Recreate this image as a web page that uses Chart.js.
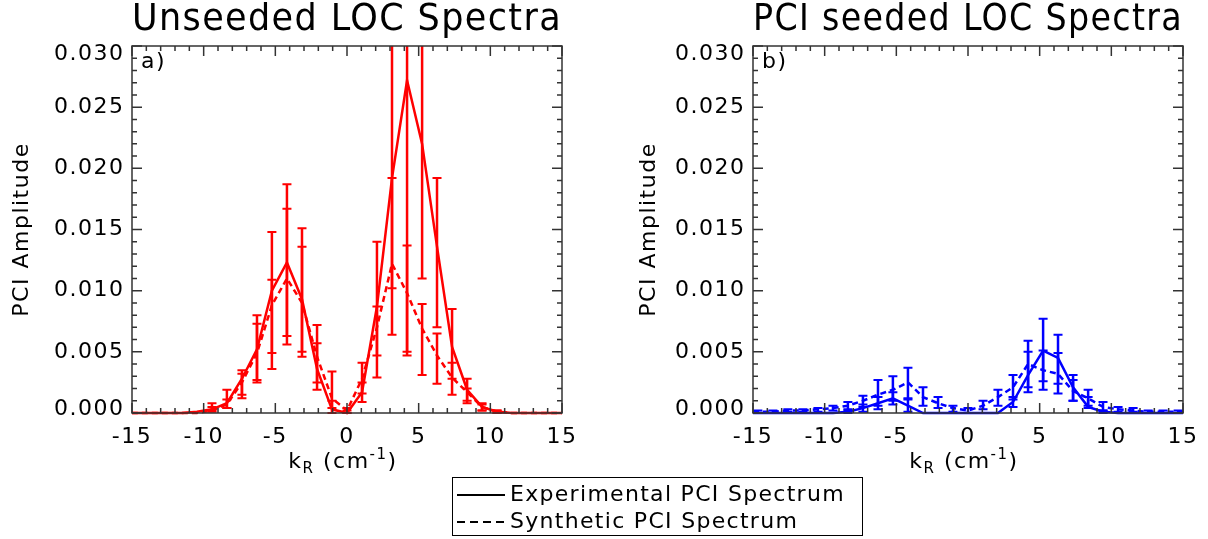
<!DOCTYPE html>
<html>
<head>
<meta charset="utf-8">
<script src="https://cdn.jsdelivr.net/npm/chart.js@4.4.1/dist/chart.umd.min.js"></script>
<style>
  body { margin: 0; background: #fff; }
  #wrap { position: relative; width: 1208px; height: 539px; overflow: hidden; font-family: "DejaVu Sans", sans-serif; }
  canvas { position: absolute; top: 0; }
  .xt { position: absolute; top: 446px; width: 300px; text-align: center; font-size: 22px; line-height: 30px; letter-spacing: 1.5px; color: #000; }
  .xt sub { font-size: 15px; vertical-align: -5px; line-height: 0; }
  .xt sup { font-size: 15px; vertical-align: 9px; line-height: 0; }
  #legend { position: absolute; left: 452px; top: 477px; width: 409px; height: 57px; border: 1px solid #000; font-size: 22px; letter-spacing: 1.3px; color: #000; }
  #legend .row { position: absolute; left: 4px; height: 26px; line-height: 26px; white-space: nowrap; }
  #legend svg { vertical-align: middle; margin-right: 5px; }
</style>
</head>
<body>
<div id="wrap">
  <canvas id="c1" width="604" height="460" style="left:0"></canvas>
  <canvas id="c2" width="604" height="460" style="left:604px"></canvas>
  <div class="xt" style="left:193px">k<sub>R</sub> (cm<sup>-1</sup>)</div>
  <div class="xt" style="left:814px">k<sub>R</sub> (cm<sup>-1</sup>)</div>
  <div id="legend"></div>
</div>
<script>
const FONT = 'DejaVu Sans';

// k_R grid (cm^-1)
const kR = [-15.71, -14.66, -13.61, -12.57, -11.52, -10.47, -9.42, -8.38, -7.33, -6.28, -5.24,
            -4.19, -3.14, -2.09, -1.05, 0, 1.05, 2.09, 3.14, 4.19, 5.24, 6.28, 7.33, 8.38,
            9.42, 10.47, 11.52, 12.57, 13.61, 14.66, 15.71];

const titles = ['Unseeded LOC Spectra', 'PCI seeded LOC Spectra'];
const panelTags = ['a)', 'b)'];
const yTitle = 'PCI Amplitude';
const legendLabels = ['Experimental PCI Spectrum', 'Synthetic PCI Spectrum'];

const xTickVals = [-15, -10, -5, 0, 5, 10, 15];
const xTickLabels = ['-15', '-10', '-5', '0', '5', '10', '15'];
const yTickVals = [0, 0.005, 0.010, 0.015, 0.020, 0.025, 0.030];
const yTickLabels = ['0.000', '0.005', '0.010', '0.015', '0.020', '0.025', '0.030'];

// a) unseeded
const unsExp = [0, 0, 0, 0, 0, 0.0001,
  0.0003, 0.0008, 0.0028, 0.0052, 0.0100, 0.0123, 0.0093, 0.0036, 0.0003,
  0.0000,
  0.0017, 0.0087, 0.0192, 0.0272, 0.0220, 0.0136, 0.0054, 0.0019, 0.0005,
  0.0001, 0, 0, 0, 0, 0];
const unsExpLo = [null, null, null, null, null, null,
  0.0002, 0.0004, 0.0012, 0.0025, 0.0036, 0.0056, 0.0046, 0.0019, 0.0000,
  0.0000,
  0.0009, 0.0029, 0.0064, 0.0047, 0.0110, 0.0070, 0.0028, 0.0008, 0.0002,
  0.0000, null, null, null, null, null];
const unsExpHi = [null, null, null, null, null, null,
  0.0008, 0.0019, 0.0035, 0.0080, 0.0148, 0.0187, 0.0151, 0.0072, 0.0010,
  0.0002,
  0.0025, 0.0140, 0.0320, 0.0500, 0.0330, 0.0192, 0.0085, 0.0028, 0.0008,
  0.0002, null, null, null, null, null];
const unsSyn = [0, 0, 0, 0, 0, 0,
  0.0002, 0.0007, 0.0025, 0.0049, 0.0088, 0.0110, 0.0090, 0.0046, 0.0012,
  0.0002,
  0.0028, 0.0070, 0.0122, 0.0098, 0.0069, 0.0047, 0.0029, 0.0017, 0.0005,
  0.0001, 0, 0, 0, 0, 0];
const unsSynLo = [null, null, null, null, null, null,
  0.0001, 0.0004, 0.0015, 0.0027, 0.0049, 0.0063, 0.0050, 0.0025, 0.0004,
  0.0000,
  0.0016, 0.0047, 0.0102, 0.0050, 0.0031, 0.0024, 0.0015, 0.0010, 0.0002,
  0.0000, null, null, null, null, null];
const unsSynHi = [null, null, null, null, null, null,
  0.0005, 0.0011, 0.0032, 0.0073, 0.0109, 0.0167, 0.0136, 0.0057, 0.0034,
  0.0004,
  0.0041, 0.0087, 0.0192, 0.0137, 0.0089, 0.0065, 0.0041, 0.0020, 0.0007,
  0.0002, null, null, null, null, null];

// b) PCI seeded
const seedExp = [0, 0, 0, 0, 0, 0,
  0.0000, 0.0001, 0.0004, 0.0008, 0.0012, 0.0006, 0.0000, 0.0000, 0.0000,
  0.0000,
  0.0000, 0.0000, 0.0009, 0.0031, 0.0051, 0.0045, 0.0021, 0.0005, 0.0001,
  0, 0, 0, 0, 0, 0];
const seedExpLo = [null, null, null, null, null, null,
  null, 0.0000, 0.0001, 0.0003, 0.0007, 0.0001, null, null, null,
  null,
  null, null, 0.0005, 0.0017, 0.0026, 0.0024, 0.0010, 0.0004, 0.0000,
  null, null, null, null, null, null];
const seedExpHi = [null, null, null, null, null, null,
  null, 0.0002, 0.0007, 0.0013, 0.0017, 0.0011, null, null, null,
  null,
  null, null, 0.0013, 0.0050, 0.0077, 0.0064, 0.0031, 0.0013, 0.0002,
  null, null, null, null, null, null];
const seedSyn = [0.0001, 0.0001, 0.0001, 0.0002, 0.0002, 0.0003,
  0.0004, 0.0006, 0.0010, 0.0015, 0.0019, 0.0025, 0.0013, 0.0008, 0.0004,
  0.0002,
  0.0006, 0.0013, 0.0021, 0.0040, 0.0035, 0.0032, 0.0018, 0.0012, 0.0005,
  0.0003, 0.0002, 0.0001, 0.0001, 0.0001, 0.0001];
const seedSynLo = [null, 0.0000, 0.0000, 0.0001, 0.0001, 0.0001,
  0.0002, 0.0003, 0.0005, 0.0006, 0.0010, 0.0012, 0.0006, 0.0004, 0.0001,
  0.0000,
  0.0003, 0.0006, 0.0011, 0.0021, 0.0019, 0.0016, 0.0010, 0.0006, 0.0002,
  0.0001, 0.0001, 0.0000, 0.0000, 0.0000, null];
const seedSynHi = [null, 0.0002, 0.0002, 0.0003, 0.0003, 0.0004,
  0.0006, 0.0009, 0.0014, 0.0027, 0.0030, 0.0037, 0.0021, 0.0013, 0.0006,
  0.0004,
  0.0010, 0.0019, 0.0031, 0.0059, 0.0051, 0.0049, 0.0027, 0.0019, 0.0009,
  0.0005, 0.0004, 0.0002, 0.0002, 0.0002, null];

// error bars, box with inward ticks (IDL style), panel tag
const idlFrame = {
  id: 'idlFrame',
  beforeDraw(chart) {
    chart.ctx.letterSpacing = '1.5px';
    const ys = chart.scales.y;
    const items = ys.getLabelItems(chart.chartArea);
    if (items.length) {
      // end labels are pulled inside the axis range
      items[0].options.translation[1] = ys.getPixelForValue(yTickVals[0]) - 4;
      items[items.length - 1].options.translation[1] = ys.getPixelForValue(yTickVals[yTickVals.length - 1]) + 8;
    }
  },
  afterDatasetsDraw(chart) {
    const {ctx, chartArea: a, scales: {x, y}} = chart;
    ctx.save();
    ctx.beginPath();
    ctx.rect(a.left - 6, a.top, a.right - a.left + 12, a.bottom - a.top + 2);
    ctx.clip();
    ctx.setLineDash([]);
    chart.data.datasets.forEach(ds => {
      if (!ds.lo) return;
      ctx.strokeStyle = ds.borderColor;
      ds.data.forEach((p, i) => {
        const lo = ds.lo[i], hi = ds.hi[i];
        if (lo == null) return;
        const px = x.getPixelForValue(p.x);
        if (px < a.left - 1 || px > a.right + 1) return;
        const y0 = y.getPixelForValue(lo), y1 = y.getPixelForValue(hi);
        ctx.lineWidth = 2.5;
        ctx.beginPath();
        ctx.moveTo(px, y0); ctx.lineTo(px, y1);
        ctx.stroke();
        ctx.lineWidth = 2;
        ctx.beginPath();
        ctx.moveTo(px - 4.5, y0); ctx.lineTo(px + 4.5, y0);
        ctx.moveTo(px - 4.5, y1); ctx.lineTo(px + 4.5, y1);
        ctx.stroke();
      });
    });
    ctx.restore();
  },
  afterDraw(chart) {
    const {ctx, chartArea: a, scales: {x, y}} = chart;
    ctx.save();
    ctx.setLineDash([]);
    ctx.strokeStyle = '#333';
    ctx.lineWidth = 1.5;
    ctx.strokeRect(a.left, a.top, a.right - a.left, a.bottom - a.top);
    ctx.beginPath();
    for (let v = -15; v <= 15; v++) {
      const px = x.getPixelForValue(v);
      const len = v % 5 === 0 ? 10 : 5;
      ctx.moveTo(px, a.bottom); ctx.lineTo(px, a.bottom - len);
      ctx.moveTo(px, a.top); ctx.lineTo(px, a.top + len);
    }
    for (let i = 0; i <= 30; i++) {
      const py = y.getPixelForValue(i / 1000);
      const len = i % 5 === 0 ? 10 : 5;
      ctx.moveTo(a.left, py); ctx.lineTo(a.left + len, py);
      ctx.moveTo(a.right, py); ctx.lineTo(a.right - len, py);
    }
    ctx.stroke();
    ctx.fillStyle = '#000';
    ctx.font = '22px "' + FONT + '"';
    ctx.textAlign = 'left';
    ctx.textBaseline = 'top';
    ctx.fillText(chart.options.panelTag, a.left + 9, a.top + 5);
    ctx.restore();
  }
};

function spectrumChart(id, o) {
  const pts = arr => kR.map((k, i) => ({x: k, y: arr[i]}));
  return new Chart(document.getElementById(id), {
    type: 'line',
    data: {
      datasets: [{
        label: legendLabels[0],
        data: pts(o.exp),
        lo: o.expLo, hi: o.expHi,
        borderColor: o.color,
        borderWidth: 2.5,
        pointRadius: 0,
        clip: {left: 0, top: 0, right: 0, bottom: 2}
      }, {
        label: legendLabels[1],
        data: pts(o.syn),
        lo: o.synLo, hi: o.synHi,
        borderColor: o.color,
        borderWidth: 2.5,
        borderDash: [6, 4],
        pointRadius: 0,
        clip: {left: 0, top: 0, right: 0, bottom: 2}
      }]
    },
    options: {
      responsive: false,
      animation: false,
      devicePixelRatio: 1,
      panelTag: o.tag,
      layout: { padding: {left: 0, right: o.padRight, top: 0, bottom: 0} },
      plugins: {
        legend: { display: false },
        tooltip: { enabled: false },
        title: {
          display: true,
          text: o.title,
          fullSize: false,
          color: '#000',
          font: { family: FONT, size: 38, weight: 'normal', lineHeight: 1 },
          padding: { top: 1, bottom: 7 }
        }
      },
      scales: {
        x: {
          type: 'linear',
          min: -15, max: 15,
          grid: { display: false, drawTicks: false },
          border: { display: false },
          afterBuildTicks: s => { s.ticks = xTickVals.map(v => ({value: v})); },
          afterFit: s => { s.height = 47; },
          ticks: {
            autoSkip: false, maxRotation: 0, padding: 11, color: '#000',
            font: { family: FONT, size: 22 },
            callback: (v, i) => xTickLabels[i]
          }
        },
        y: {
          min: 0, max: 0.03,
          grid: { display: false, drawTicks: false },
          border: { display: false },
          afterBuildTicks: s => { s.ticks = yTickVals.map(v => ({value: v})); },
          afterFit: s => { s.width = o.yWidth; },
          ticks: {
            autoSkip: false, padding: 7.5, color: '#000',
            font: { family: FONT, size: 22 },
            callback: (v, i) => yTickLabels[i]
          },
          title: {
            display: true, text: yTitle, color: '#000',
            font: { family: FONT, size: 22 },
            padding: { top: o.yTitlePad, bottom: 0 }
          }
        }
      }
    },
    plugins: [idlFrame]
  });
}

spectrumChart('c1', {
  title: titles[0], tag: panelTags[0], color: '#ff0000',
  exp: unsExp, expLo: unsExpLo, expHi: unsExpHi,
  syn: unsSyn, synLo: unsSynLo, synHi: unsSynHi,
  yWidth: 132, yTitlePad: 9, padRight: 42
});
spectrumChart('c2', {
  title: titles[1], tag: panelTags[1], color: '#0000ff',
  exp: seedExp, expLo: seedExpLo, expHi: seedExpHi,
  syn: seedSyn, synLo: seedSynLo, synHi: seedSynHi,
  yWidth: 149, yTitlePad: 32, padRight: 25
});

// legend box
const leg = document.getElementById('legend');
legendLabels.forEach((txt, i) => {
  const row = document.createElement('div');
  row.className = 'row';
  row.style.top = (3 + i * 27) + 'px';
  const dash = i === 0 ? '' : ' stroke-dasharray="8 5"';
  row.innerHTML = '<svg width="48" height="4"><line x1="0" y1="2" x2="48" y2="2" stroke="#000" stroke-width="2"' + dash + '/></svg>';
  const span = document.createElement('span');
  span.textContent = txt;
  row.appendChild(span);
  leg.appendChild(row);
});
</script>
</body>
</html>
